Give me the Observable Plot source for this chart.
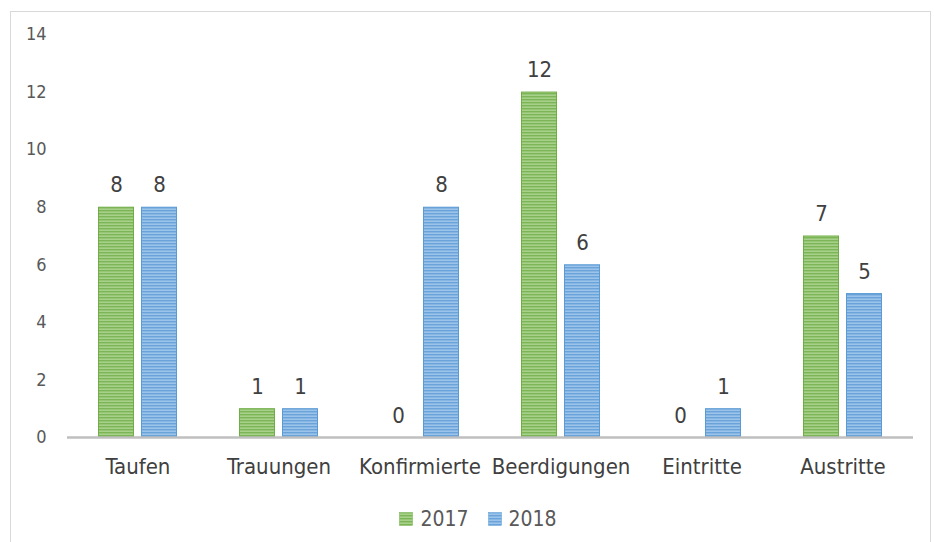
<!DOCTYPE html>
<html>
<head>
<meta charset="utf-8">
<script src="https://cdn.jsdelivr.net/npm/d3@7"></script>
<script src="https://cdn.jsdelivr.net/npm/@observablehq/plot@0.6"></script>
<style>
  body { margin: 0; background: #fff; font-family: "DejaVu Sans Condensed", "DejaVu Sans", sans-serif; }
  #wrap { position: relative; width: 934px; height: 542px; overflow: hidden; }
  #border { position: absolute; left: 10px; top: 11px; width: 921px; height: 540px; border: 1px solid #d9d9d9; box-sizing: border-box; pointer-events: none; }
  #chart { position: absolute; left: 0; top: 0; }
  #legend { position: absolute; top: 507px; left: 0; width: 934px; display: flex; justify-content: center; gap: 19px; font-size: 21px; color: #595959; padding-left: 22px; box-sizing: border-box; }
  .item { display: flex; align-items: center; gap: 7px; }
</style>
</head>
<body>
<svg width="0" height="0" style="position:absolute">
  <defs>
    <pattern id="pg" patternUnits="userSpaceOnUse" width="6" height="3">
      <rect width="6" height="3" fill="#a7d08a"/>
      <rect width="6" height="1.4" fill="#7cb556"/>
    </pattern>
    <pattern id="pb" patternUnits="userSpaceOnUse" width="6" height="3">
      <rect width="6" height="3" fill="#9cc3ea"/>
      <rect width="6" height="1.4" fill="#6aa3da"/>
    </pattern>
  </defs>
</svg>
<div id="wrap">
  <div id="chart"></div>
  <div id="border"></div>
  <div id="legend"></div>
</div>
<script>
const categories = ["Taufen", "Trauungen", "Konfirmierte", "Beerdigungen", "Eintritte", "Austritte"];
const years = ["2017", "2018"];
const values2017 = [8, 1, 0, 12, 0, 7];
const values2018 = [8, 1, 8, 6, 1, 5];
const yTicks = [0, 2, 4, 6, 8, 10, 12, 14];
const fills = {"2017": "url(#pg)", "2018": "url(#pb)"};
const strokes = {"2017": "#70ad47", "2018": "#5b9bd5"};

const data = [];
categories.forEach((c, i) => {
  data.push({category: c, year: "2017", value: values2017[i]});
  data.push({category: c, year: "2018", value: values2018[i]});
});

const font = '"DejaVu Sans Condensed", "DejaVu Sans", sans-serif';

const chart = Plot.plot({
  width: 934,
  height: 490,
  marginLeft: 66,
  marginRight: 20,
  marginTop: 34,
  marginBottom: 53,
  style: {fontFamily: font, color: "#595959", background: "transparent"},
  fx: {domain: categories, padding: 0, label: null, axis: null},
  x: {domain: years, paddingInner: 0.16, paddingOuter: 0.685, axis: null},
  y: {domain: [0, 14], label: null, axis: null},
  marks: [
    Plot.axisFx({fontSize: 22, tickSize: 0, tickPadding: 21, label: null, anchor: "bottom", fill: "#404040"}),
    Plot.axisY({ticks: yTicks, fontSize: 18, tickSize: 0, tickPadding: 21, label: null, fill: "#595959"}),
    Plot.barY(data, {fx: "category", x: "year", y: "value", fill: d => fills[d.year], stroke: d => strokes[d.year], strokeWidth: 1, inset: 0.5}),
    Plot.ruleY([0], {stroke: "#bfbfbf", strokeWidth: 2.5}),
    Plot.text(data, {fx: "category", x: "year", y: "value", text: d => String(d.value), dy: -22, fontSize: 22, fill: "#404040"})
  ]
});
document.getElementById("chart").appendChild(chart);

const legend = document.getElementById("legend");
years.forEach(y => {
  const item = document.createElement("div");
  item.className = "item";
  item.innerHTML = `<svg width="14" height="14"><rect x="0.5" y="0.5" width="13" height="13" fill="${fills[y]}" stroke="${strokes[y]}" stroke-width="0.5"/></svg><span>${y}</span>`;
  legend.appendChild(item);
});
</script>
</body>
</html>
